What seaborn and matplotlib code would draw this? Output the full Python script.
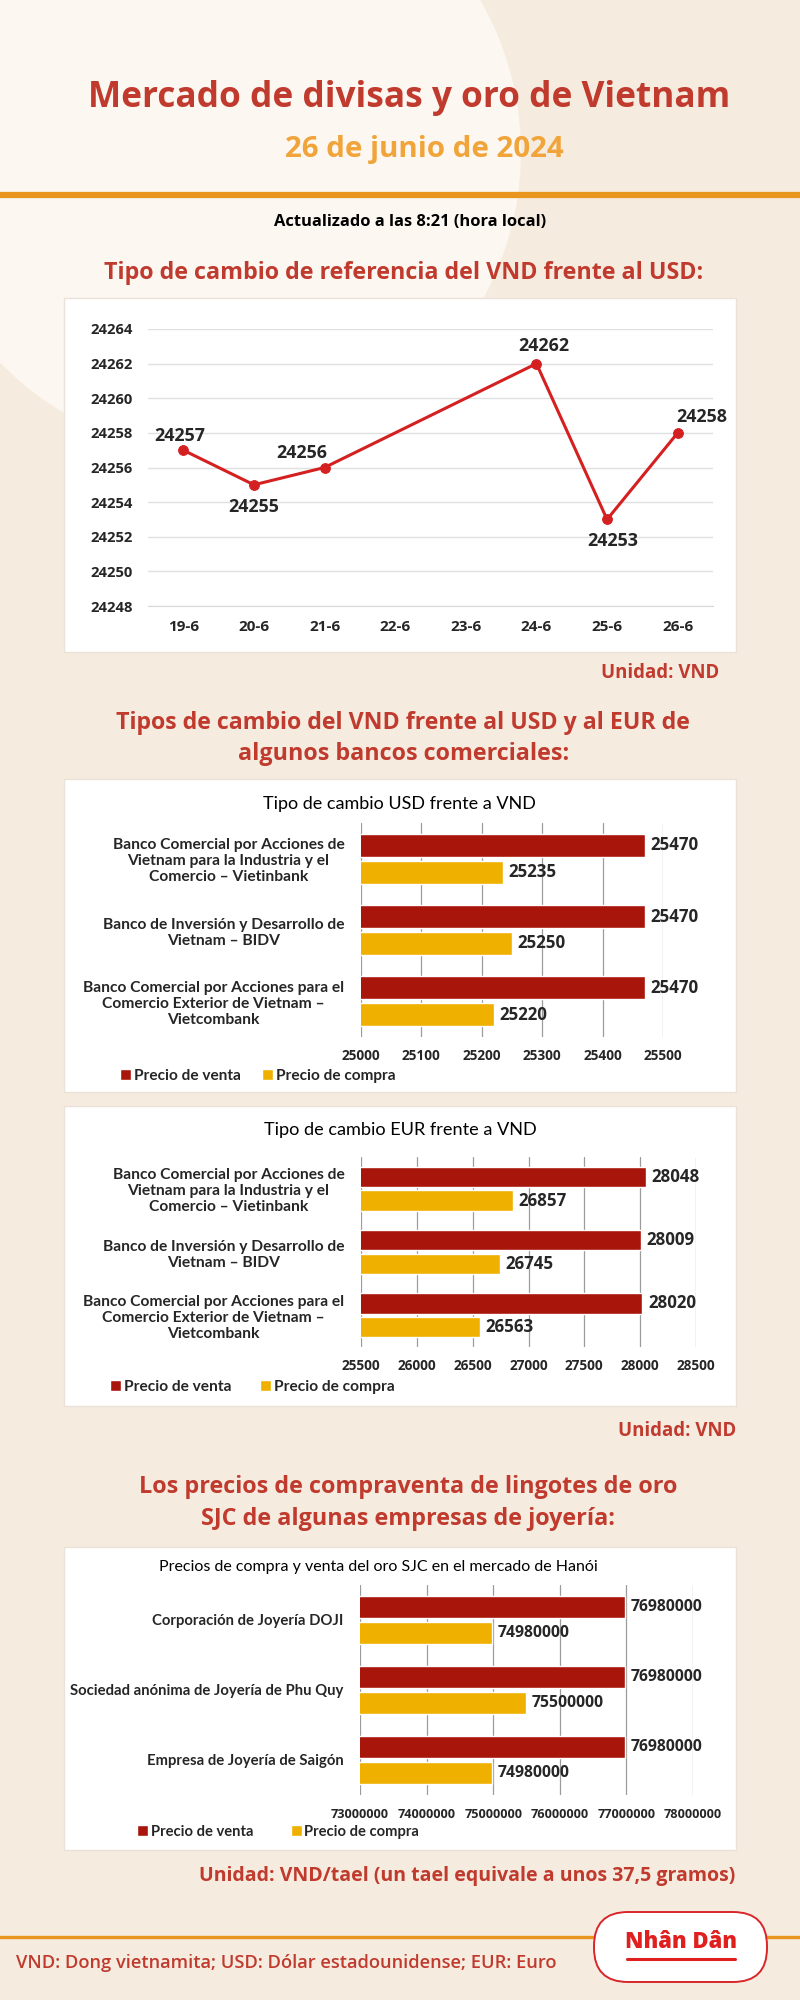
import numpy as np
import pandas as pd
import matplotlib
matplotlib.use("Agg")
import matplotlib.pyplot as plt
from matplotlib.patches import Rectangle, Ellipse, FancyBboxPatch, Patch
from matplotlib.lines import Line2D
import seaborn as sns

# --- DATOS ---
fechas = ['19-6', '20-6', '21-6', '22-6', '23-6', '24-6', '25-6', '26-6']
tasa_referencia = [24257, 24255, 24256, np.nan, np.nan, 24262, 24253, 24258]

bancos = ['Banco Comercial por Acciones de\nVietnam para la Industria y el\nComercio – Vietinbank',
          'Banco de Inversión y Desarrollo de\nVietnam – BIDV',
          'Banco Comercial por Acciones para el\nComercio Exterior de Vietnam –\nVietcombank']
usd_venta = [25470, 25470, 25470]
usd_compra = [25235, 25250, 25220]
eur_venta = [28048, 28009, 28020]
eur_compra = [26857, 26745, 26563]

joyerias = ['Corporación de Joyería DOJI',
            'Sociedad anónima de Joyería de Phu Quy',
            'Empresa de Joyería de Saigón']
oro_venta = [76980000, 76980000, 76980000]
oro_compra = [74980000, 75500000, 74980000]

tipos = ['Precio de venta', 'Precio de compra']

# --- ESTILO ---
sns.set_style('white')
plt.rcParams['font.family'] = ['Open Sans', 'DejaVu Sans']
TXT_FAM = ['Lato', 'Open Sans', 'DejaVu Sans']
NUM_FAM = ['Open Sans', 'DejaVu Sans']

FONDO = '#f6ebdf'
ROJO_TXT = '#c03a2e'
NARANJA = '#f0a43a'
ROJO_BAR = '#a8150b'
AMARILLO = '#f0b000'
ROJO_LINEA = '#d42020'

W, H = 800, 2000
fig = plt.figure(figsize=(8, 20), dpi=100)
fig.patch.set_facecolor(FONDO)
renderer = fig.canvas.get_renderer()


def fx(x):
    return x / W


def fy(y):
    return 1 - y / H


def talla(s, ancho, weight='bold', family=None):
    # tamaño de letra para que el texto ocupe 'ancho' píxeles
    fam = family or plt.rcParams['font.family']
    t = fig.text(0, 0, s, fontsize=20, fontweight=weight, family=fam)
    w = t.get_window_extent(renderer).width
    t.remove()
    return 20 * ancho / w


def ejes(left, top, right, bottom):
    ax = fig.add_axes([fx(left), fy(bottom), (right - left) / W, (bottom - top) / H])
    ax.set_facecolor('none')
    return ax


def texto(x, y, s, ancho, color='black', weight='bold', ha='center', family=None):
    fam = family or plt.rcParams['font.family']
    fig.text(fx(x), fy(y), s, fontsize=talla(s, ancho, weight, fam), color=color,
             fontweight=weight, ha=ha, va='center', family=fam)


def panel(top, bottom):
    fig.add_artist(Rectangle((fx(64), fy(bottom)), 672 / W, (bottom - top) / H,
                             transform=fig.transFigure, fc='white', ec='#eae2d8',
                             lw=1, zorder=-1))


# fondo decorativo (círculo claro arriba a la izquierda)
fig.add_artist(Ellipse((fx(218), fy(152)), 2 * 303 / W, 2 * 303 / H,
                       transform=fig.transFigure, fc='#fcf7f1', ec='none', zorder=-3))

# --- CABECERA ---
texto(409, 98, 'Mercado de divisas y oro de Vietnam', 644, ROJO_TXT)
texto(424, 149, '26 de junio de 2024', 279, NARANJA)
fig.add_artist(Line2D([0, 1], [fy(195), fy(195)], transform=fig.transFigure,
                      color='#e8961e', lw=4.5, zorder=-1))
texto(410, 222, 'Actualizado a las 8:21 (hora local)', 272)

# --- GRÁFICO 1: tasa de referencia ---
texto(404, 273, 'Tipo de cambio de referencia del VND frente al USD:', 598, ROJO_TXT)
panel(298, 652)
ax1 = ejes(148, 329, 713, 606)
df_ref = pd.DataFrame({'pos': range(len(fechas)), 'tasa': tasa_referencia}).dropna()
sns.lineplot(data=df_ref, x='pos', y='tasa', color=ROJO_LINEA, marker='o',
             markersize=7, markeredgecolor=ROJO_LINEA, linewidth=2.2, ax=ax1)
ax1.set_xlim(-0.5, len(fechas) - 0.5)
ax1.set_ylim(24248, 24264)
ax1.set_xticks(range(len(fechas)))
ax1.set_xticklabels(fechas)
ax1.set_xticks(np.arange(-0.5, len(fechas)), minor=True)
ax1.set_yticks(range(24248, 24265, 2))
ax1.yaxis.grid(True, color='#e0e0e0', lw=1)
ax1.set_axisbelow(True)
for s in ['top', 'right', 'left']:
    ax1.spines[s].set_visible(False)
ax1.spines['bottom'].set_color('#d8d8d8')
ax1.tick_params(axis='y', length=0, pad=11, labelsize=talla('24264', 42))
ax1.tick_params(axis='x', which='major', length=0, pad=10, labelsize=talla('19-6', 31))
ax1.tick_params(axis='x', which='minor', length=5, color='#d8d8d8')
for lab in ax1.get_xticklabels() + ax1.get_yticklabels():
    lab.set_fontweight('bold')
ax1.set_xlabel('')
ax1.set_ylabel('')
t_lab = talla('24262', 51)
desplaz = [(-4, 14), (0, -22), (-23, 14), (7, 18), (6, -22), (24, 16)]
for (p, v), (dx, dy) in zip(zip(df_ref['pos'], df_ref['tasa']), desplaz):
    ax1.annotate(f'{int(v)}', xy=(p, v), xytext=(dx, dy), textcoords='offset pixels',
                 ha='center', va='center', fontsize=t_lab, fontweight='bold')
texto(719, 673, 'Unidad: VND', 118, ROJO_TXT, ha='right')


# --- GRÁFICOS DE BARRAS ---
def barras(ax, etiquetas, venta, compra, xlim, xticks, t_val, t_tick, t_cat, multial,
           leg_x, leg_y, hueco, t_leg):
    df = pd.DataFrame({'cat': etiquetas * 2,
                       'tipo': [tipos[0]] * len(venta) + [tipos[1]] * len(compra),
                       'valor': venta + compra})
    sns.barplot(data=df, y='cat', x='valor', hue='tipo', orient='h',
                palette=[ROJO_BAR, AMARILLO], saturation=1, width=0.75, gap=0.14,
                legend=False, ax=ax)
    ax.set_xlim(*xlim)
    ax.set_ylim(len(etiquetas) - 0.5, -0.5)
    ax.set_xticks(xticks)
    ax.xaxis.set_major_formatter(plt.FuncFormatter(lambda v, _: f'{int(v)}'))
    ax.xaxis.grid(True, color='#9c9c9c', lw=0.9)
    ax.set_axisbelow(True)
    for s in ax.spines.values():
        s.set_visible(False)
    ax.tick_params(axis='x', length=0, pad=9, labelsize=t_tick)
    ax.tick_params(axis='y', length=0, pad=12, labelsize=t_cat)
    for lab in ax.get_xticklabels():
        lab.set_fontweight('bold')
        lab.set_fontfamily(NUM_FAM)
    for lab in ax.get_yticklabels():
        lab.set_fontweight('bold')
        lab.set_fontfamily(TXT_FAM)
        lab.set_multialignment(multial)
    ax.set_xlabel('')
    ax.set_ylabel('')
    for cont in ax.containers:
        ax.bar_label(cont, fmt='%d', padding=4, fontsize=t_val, fontweight='bold',
                     family=NUM_FAM)
    fpx = t_leg * 100 / 72
    fig.legend(handles=[Patch(fc=ROJO_BAR), Patch(fc=AMARILLO)], labels=tipos,
               loc='center left', bbox_to_anchor=(fx(leg_x), fy(leg_y)), ncol=2,
               frameon=False, handlelength=11 / fpx, handleheight=11 / fpx,
               handletextpad=3 / fpx, columnspacing=hueco / fpx,
               prop={'weight': 'bold', 'size': t_leg, 'family': TXT_FAM},
               borderaxespad=0, borderpad=0)


texto(403, 723, 'Tipos de cambio del VND frente al USD y al EUR de', 575, ROJO_TXT)
texto(404, 754, 'algunos bancos comerciales:', 330, ROJO_TXT)

t_banco = talla('Banco Comercial por Acciones de', 233, family=TXT_FAM)
t_num = talla('25000', 39, family=NUM_FAM)
t_val = talla('25470', 48, family=NUM_FAM)

panel(779, 1092)
texto(399, 804, 'Tipo de cambio USD frente a VND', 273, weight='normal', family=TXT_FAM)
ax2 = ejes(361, 823, 663, 1037)
barras(ax2, bancos, usd_venta, usd_compra, (25000, 25500), range(25000, 25501, 100),
       t_val, t_num, t_banco, 'center', 120, 1076, 21,
       talla('Precio de venta', 107, family=TXT_FAM))

panel(1106, 1406)
texto(400, 1130, 'Tipo de cambio EUR frente a VND', 274, weight='normal', family=TXT_FAM)
ax3 = ejes(361, 1157, 696, 1347)
barras(ax3, bancos, eur_venta, eur_compra, (25500, 28500), range(25500, 28501, 500),
       t_val, t_num, t_banco, 'center', 110, 1387, 28,
       talla('Precio de venta', 108, family=TXT_FAM))
texto(736, 1431, 'Unidad: VND', 118, ROJO_TXT, ha='right')

# --- GRÁFICO ORO ---
texto(408, 1487, 'Los precios de compraventa de lingotes de oro', 540, ROJO_TXT)
texto(408, 1519, 'SJC de algunas empresas de joyería:', 414, ROJO_TXT)
panel(1547, 1850)
texto(378, 1567, 'Precios de compra y venta del oro SJC en el mercado de Hanói', 441,
      weight='normal', family=TXT_FAM)
ax4 = ejes(360, 1585, 693, 1795)
barras(ax4, joyerias, oro_venta, oro_compra, (73000000, 78000000),
       range(73000000, 78000001, 1000000), talla('76980000', 72, family=NUM_FAM),
       talla('73000000', 58, family=NUM_FAM),
       talla('Sociedad anónima de Joyería de Phu Quy', 273, family=TXT_FAM),
       'right', 137, 1832, 37, talla('Precio de venta', 102, family=TXT_FAM))
texto(735, 1876, 'Unidad: VND/tael (un tael equivale a unos 37,5 gramos)', 534, ROJO_TXT,
      ha='right')

# --- PIE ---
fig.add_artist(Line2D([0, 1], [fy(1937), fy(1937)], transform=fig.transFigure,
                      color='#e8961e', lw=2.4, zorder=-1))
texto(16, 1963, 'VND: Dong vietnamita; USD: Dólar estadounidense; EUR: Euro', 541,
      ROJO_TXT, weight='semibold', ha='left')

ax_logo = ejes(590, 1908, 772, 1986)
ax_logo.set_xlim(590, 772)
ax_logo.set_ylim(1986, 1908)
ax_logo.axis('off')
ax_logo.add_patch(FancyBboxPatch((594, 1912), 173, 70,
                                 boxstyle='round,pad=0,rounding_size=34',
                                 fc='white', ec='#d8262a', lw=1.4))
ax_logo.text(681, 1942, 'Nhân Dân', fontsize=talla('Nhân Dân', 112, 'heavy'),
             color='#e0201e', fontweight='heavy', ha='center', va='center')
ax_logo.plot([627, 735], [1959, 1959], color='#e0201e', lw=2.2)

fig.savefig('out.png', dpi=100, facecolor=FONDO)
